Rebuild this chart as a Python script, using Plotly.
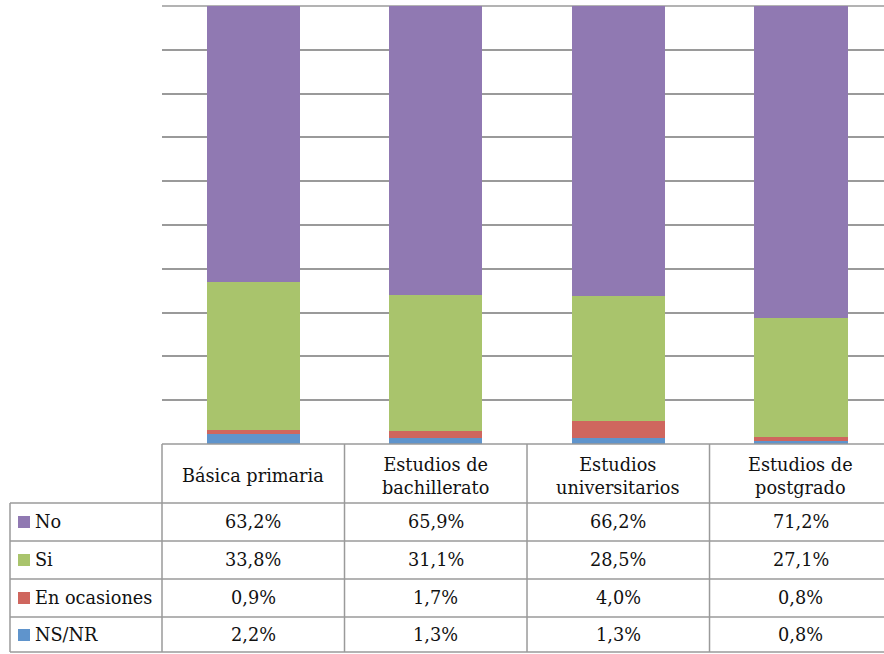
import plotly.graph_objects as go

categories = ["Básica primaria", "Estudios de bachillerato", "Estudios universitarios", "Estudios de postgrado"]
header_labels = ["Básica primaria", "Estudios de<br>bachillerato", "Estudios<br>universitarios", "Estudios de<br>postgrado"]
series_names = ["No", "Si", "En ocasiones", "NS/NR"]
no_vals = [63.2, 65.9, 66.2, 71.2]
si_vals = [33.8, 31.1, 28.5, 27.1]
ocasiones_vals = [0.9, 1.7, 4.0, 0.8]
nsnr_vals = [2.2, 1.3, 1.3, 0.8]

colors = {"No": "#9079B2", "Si": "#A9C46C", "En ocasiones": "#CF665E", "NS/NR": "#5F94CC"}
values = {"No": no_vals, "Si": si_vals, "En ocasiones": ocasiones_vals, "NS/NR": nsnr_vals}

W, H = 884, 654
L, R, T, B = 162, 0, 6, 210
plot_h = H - T - B
plot_w = W - L - R
FONT = "DejaVu Serif"
FS = 17.7
TXT = "#111111"
GRID = "#9A9A9A"

def py(Y):
    return (H - B - Y) / plot_h

def px(X):
    return (X - L) / plot_w

xs = list(range(len(categories)))
fig = go.Figure()
for name in ["NS/NR", "En ocasiones", "Si", "No"]:
    fig.add_trace(go.Bar(x=xs, y=values[name], name=name, width=0.512,
                         marker=dict(color=colors[name], line=dict(width=0)),
                         showlegend=False, hoverinfo="skip"))

xmin, xmax = -0.5, 3.456
def xpix(v):
    return L + (v - xmin) / (xmax - xmin) * plot_w

shapes = []
line = dict(color=GRID, width=1.5)
# top gridline (at 100%)
shapes.append(dict(type="line", xref="paper", yref="paper", x0=0, x1=1.02, y0=1, y1=1, line=line, layer="below"))
# table horizontal lines
rows_y = [503, 541, 579, 617, 652]
shapes.append(dict(type="line", xref="paper", yref="paper", x0=px(L), x1=1.02, y0=py(444), y1=py(444), line=line))
for Y in rows_y:
    shapes.append(dict(type="line", xref="paper", yref="paper", x0=px(10), x1=1.02, y0=py(Y), y1=py(Y), line=line))
# vertical lines
shapes.append(dict(type="line", xref="paper", yref="paper", x0=px(10), x1=px(10), y0=py(503), y1=py(652), line=line))
for i in range(len(categories)):
    X = xpix(i - 0.5)
    shapes.append(dict(type="line", xref="paper", yref="paper", x0=px(X), x1=px(X), y0=py(444), y1=py(652), line=line))

annotations = []
for i, lab in enumerate(header_labels):
    annotations.append(dict(x=i, xref="x", y=py(476), yref="paper", text=lab, showarrow=False,
                            font=dict(family=FONT, size=FS, color=TXT), xanchor="center", yanchor="middle"))
row_centers = [522, 560, 598, 635]
for r, name in enumerate(series_names):
    Yc = row_centers[r]
    shapes.append(dict(type="rect", xref="paper", yref="paper", x0=px(18), x1=px(30), y0=py(Yc + 6), y1=py(Yc - 6),
                       fillcolor=colors[name], line=dict(width=0)))
    annotations.append(dict(x=px(33), xref="paper", y=py(Yc), yref="paper", text=name, showarrow=False,
                            font=dict(family=FONT, size=FS, color=TXT), xanchor="left", yanchor="middle"))
    for i, v in enumerate(values[name]):
        annotations.append(dict(x=i, xref="x", y=py(Yc), yref="paper",
                                text=f"{v:.1f}%".replace(".", ","), showarrow=False,
                                font=dict(family=FONT, size=FS, color=TXT), xanchor="center", yanchor="middle"))

fig.update_layout(
    width=W, height=H, margin=dict(l=L, r=R, t=T, b=B),
    paper_bgcolor="white", plot_bgcolor="white", barmode="stack",
    xaxis=dict(range=[xmin, xmax], showticklabels=False, showgrid=False, zeroline=False, showline=False, ticks=""),
    yaxis=dict(range=[0, 100], dtick=10, showticklabels=False, showgrid=True, gridcolor=GRID, gridwidth=1.5,
               zeroline=False, showline=False, ticks=""),
    shapes=shapes, annotations=annotations, font=dict(family=FONT),
)
fig.write_html("out.html", config={"displayModeBar": False},
               post_script="document.body.style.margin='0';document.body.style.overflow='hidden';")
